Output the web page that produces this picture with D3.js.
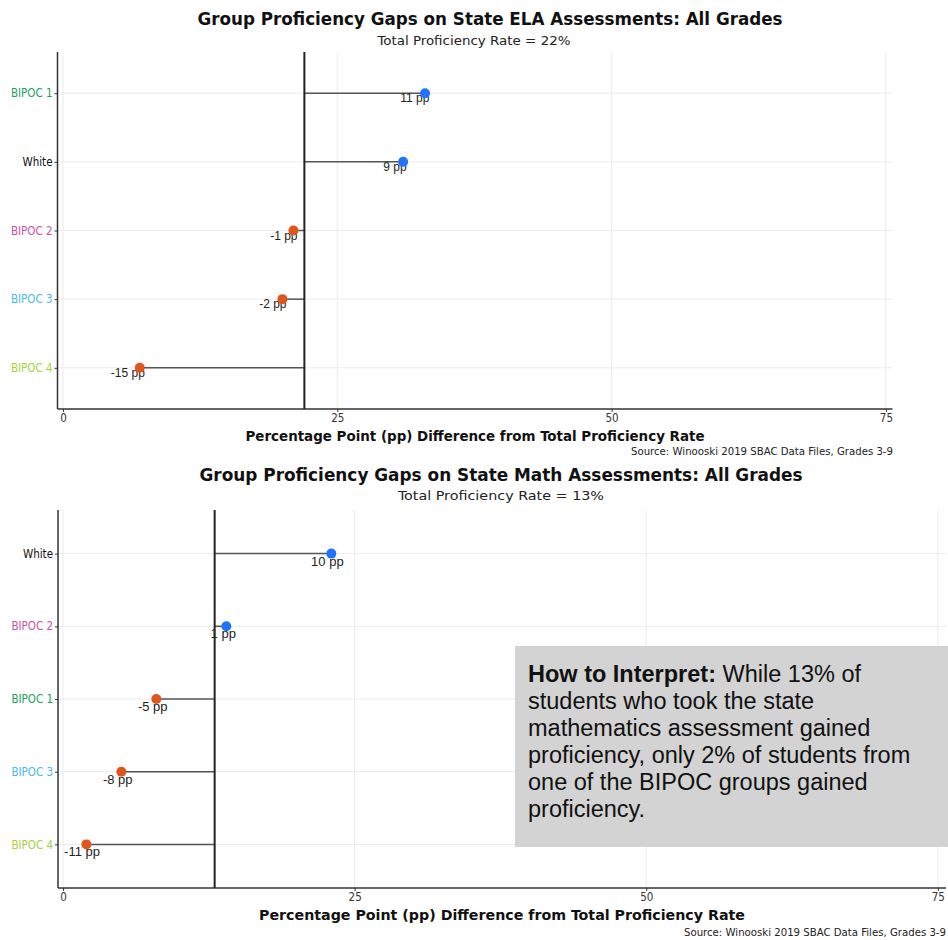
<!DOCTYPE html>
<html>
<head>
<meta charset="utf-8">
<script src="https://cdn.jsdelivr.net/npm/d3@7"></script>
<style>
  html, body { margin: 0; padding: 0; background: #fff; }
  svg { display: block; }
</style>
</head>
<body>
<svg id="chart" width="948" height="940"></svg>
<script>
// ---------- DATA ----------
const elaGroups = ["BIPOC 1", "White", "BIPOC 2", "BIPOC 3", "BIPOC 4"];
const elaRates  = [33, 31, 21, 20, 7];
const elaTotal  = 22;

const mathGroups = ["White", "BIPOC 2", "BIPOC 1", "BIPOC 3", "BIPOC 4"];
const mathRates  = [23, 14, 8, 5, 2];
const mathTotal  = 13;

const xTicks = [0, 25, 50, 75];

const groupColors = {
  "BIPOC 1": "#21a05c",
  "White":   "#111111",
  "BIPOC 2": "#c94fa6",
  "BIPOC 3": "#4cb7ec",
  "BIPOC 4": "#a6cf3c"
};

const titles = {
  ela:  "Group Proficiency Gaps on State ELA Assessments: All Grades",
  math: "Group Proficiency Gaps on State Math Assessments: All Grades"
};
const xTitle = "Percentage Point (pp) Difference from Total Proficiency Rate";
const sourceText = "Source: Winooski 2019 SBAC Data Files, Grades 3-9";
const noteBold = "How to Interpret:";
const noteLines = [
  " While 13% of",
  "students who took the state",
  "mathematics assessment gained",
  "proficiency, only 2% of students from",
  "one of the BIPOC groups gained",
  "proficiency."
];

// ---------- DRAW ----------
const svg = d3.select("#chart");
const titleFont = "'DejaVu Sans Condensed', 'DejaVu Sans', Verdana, sans-serif";
const axisFont = "'DejaVu Sans Condensed', 'DejaVu Sans', Verdana, sans-serif";
const labelFont = "'Liberation Sans', Arial, sans-serif";

function drawChart(cfg) {
  const g = svg.append("g");
  const {left, right, top, bottom} = cfg.panel;
  const x = d3.scaleLinear().domain(cfg.xDomain).range([left, right]);
  const y = d3.scalePoint().domain(cfg.groups).range([top, bottom]).padding(0.6);
  const data = cfg.groups.map((grp, i) => ({grp, v: cfg.rates[i], diff: cfg.rates[i] - cfg.total}));

  // Titles
  g.append("text").attr("x", cfg.titleX).attr("y", cfg.titleY)
    .attr("text-anchor", "middle").attr("font-family", titleFont)
    .attr("font-weight", "bold").attr("font-size", 17).attr("fill", "#111")
    .attr("textLength", cfg.titleLen).attr("lengthAdjust", "spacingAndGlyphs")
    .text(cfg.title);
  g.append("text").attr("x", cfg.subX).attr("y", cfg.subY)
    .attr("text-anchor", "middle").attr("font-family", titleFont)
    .attr("font-size", 13).attr("fill", "#222")
    .attr("textLength", cfg.subLen).attr("lengthAdjust", "spacingAndGlyphs")
    .text("Total Proficiency Rate = " + cfg.total + "%");

  // Grid lines
  g.append("g").selectAll("line.v").data(xTicks).join("line")
    .attr("x1", d => x(d)).attr("x2", d => x(d))
    .attr("y1", top).attr("y2", bottom)
    .attr("stroke", "#ebebeb").attr("stroke-width", 1);
  g.append("g").selectAll("line.h").data(cfg.groups).join("line")
    .attr("x1", left).attr("x2", right)
    .attr("y1", d => y(d)).attr("y2", d => y(d))
    .attr("stroke", "#ebebeb").attr("stroke-width", 1);

  // Axes lines
  g.append("line").attr("x1", left).attr("x2", left).attr("y1", top).attr("y2", bottom)
    .attr("stroke", "#333").attr("stroke-width", 1.5);
  g.append("line").attr("x1", left).attr("x2", right).attr("y1", bottom).attr("y2", bottom)
    .attr("stroke", "#333").attr("stroke-width", 1.5);

  // X axis via d3.axisBottom
  const xa = g.append("g").attr("transform", `translate(0,${bottom})`)
    .call(d3.axisBottom(x).tickValues(xTicks).tickSize(3).tickPadding(2).tickFormat(d3.format("d")));
  xa.select(".domain").remove();
  xa.selectAll(".tick line").attr("stroke", "#333");
  xa.selectAll(".tick text").attr("font-family", axisFont).attr("font-size", 11.5).attr("fill", "#333");

  // Y axis
  const ya = g.append("g").attr("transform", `translate(${left},0)`)
    .call(d3.axisLeft(y).tickSize(3).tickPadding(2));
  ya.select(".domain").remove();
  ya.selectAll(".tick line").attr("stroke", "#333");
  ya.selectAll(".tick text").attr("font-family", axisFont).attr("font-size", 11.5)
    .attr("fill", d => groupColors[d]);

  // Segments
  g.append("g").selectAll("line").data(data).join("line")
    .attr("x1", x(cfg.total)).attr("x2", d => x(d.v))
    .attr("y1", d => y(d.grp)).attr("y2", d => y(d.grp))
    .attr("stroke", "#555").attr("stroke-width", 1.5);

  // Labels
  const lbl = g.append("g").selectAll("text").data(data).join("text")
    .attr("y", d => y(d.grp) + cfg.labelDy)
    .attr("font-family", labelFont).attr("font-size", cfg.labelSize).attr("fill", "#222")
    .text(d => d.diff + " pp");
  lbl.each(function(d) {
    const w = this.getComputedTextLength();
    d3.select(this).attr("x", x(d.v) - cfg.hjust * w);
  });

  // Points
  g.append("g").selectAll("circle").data(data).join("circle")
    .attr("cx", d => x(d.v)).attr("cy", d => y(d.grp)).attr("r", 5)
    .attr("fill", d => d.diff >= 0 ? "#1f74fb" : "#e0551b");

  // Total line
  g.append("line").attr("x1", x(cfg.total)).attr("x2", x(cfg.total))
    .attr("y1", top).attr("y2", bottom)
    .attr("stroke", "#222").attr("stroke-width", 2);

  // X title & source
  g.append("text").attr("x", (left + right) / 2).attr("y", cfg.xTitleY)
    .attr("text-anchor", "middle").attr("font-family", titleFont)
    .attr("font-weight", "bold").attr("font-size", 14).attr("fill", "#111")
    .attr("textLength", cfg.xTitleLen).attr("lengthAdjust", "spacingAndGlyphs")
    .text(xTitle);
  g.append("text").attr("x", cfg.sourceX).attr("y", cfg.sourceY)
    .attr("text-anchor", "end").attr("font-family", axisFont)
    .attr("font-size", 10.5).attr("fill", "#222")
    .attr("textLength", cfg.sourceLen).attr("lengthAdjust", "spacingAndGlyphs")
    .text(sourceText);
}

drawChart({
  groups: elaGroups, rates: elaRates, total: elaTotal, title: titles.ela,
  panel: {left: 57.5, right: 892.5, top: 52, bottom: 409},
  xDomain: [-0.5, 75.6],
  titleX: 490, titleY: 25, titleLen: 585,
  subX: 474, subY: 45, subLen: 193,
  xTitleY: 441, xTitleLen: 459,
  sourceX: 893, sourceY: 455, sourceLen: 262,
  labelDy: 9, labelSize: 12, hjust: 0.85
});

drawChart({
  groups: mathGroups, rates: mathRates, total: mathTotal, title: titles.math,
  panel: {left: 58, right: 946, top: 510, bottom: 888},
  xDomain: [-0.43, 75.7],
  titleX: 501, titleY: 481, titleLen: 603,
  subX: 501, subY: 500, subLen: 206,
  xTitleY: 920, xTitleLen: 486,
  sourceX: 946, sourceY: 936, sourceLen: 262,
  labelDy: 12, labelSize: 13, hjust: 0.62
});

// Note box
const note = svg.append("g");
note.append("rect").attr("x", 515).attr("y", 646).attr("width", 433).attr("height", 201)
  .attr("fill", "#d3d3d3");
const nt = note.append("g").attr("font-family", labelFont).attr("font-size", 23.5).attr("fill", "#111");
const first = nt.append("text").attr("x", 528).attr("y", 682);
first.append("tspan").attr("font-weight", "bold").text(noteBold);
first.append("tspan").text(noteLines[0]);
noteLines.slice(1).forEach((ln, i) => {
  nt.append("text").attr("x", 528).attr("y", 682 + (i + 1) * 27).text(ln);
});
</script>
</body>
</html>
